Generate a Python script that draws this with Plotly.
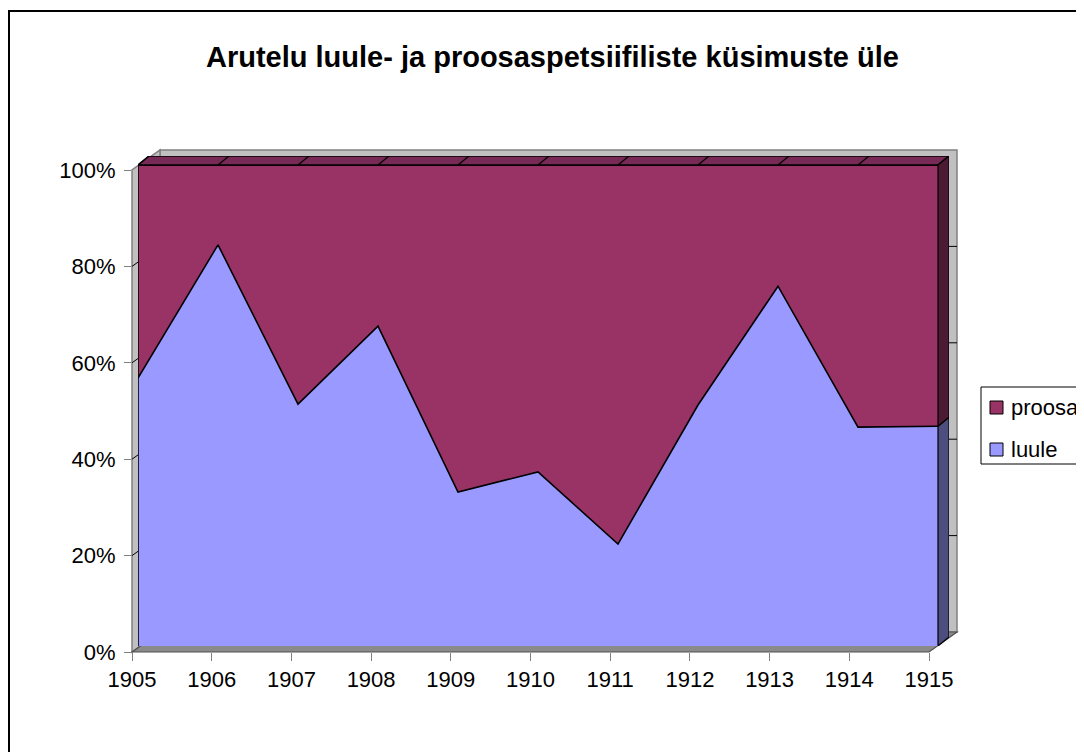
import plotly.graph_objects as go

# ---------------- data ----------------
years = [1905, 1906, 1907, 1908, 1909, 1910, 1911, 1912, 1913, 1914, 1915]
luule = [55.7, 83.4, 50.3, 66.5, 32.0, 36.2, 21.2, 50.1, 74.8, 45.5, 45.7]
proosa = [44.3, 16.6, 49.7, 33.5, 68.0, 63.8, 78.8, 49.9, 25.2, 54.5, 54.3]
ytick_vals = [0, 20, 40, 60, 80, 100]
ytick_text = ["0%", "20%", "40%", "60%", "80%", "100%"]
title_text = "Arutelu luule- ja proosaspetsiifiliste küsimuste üle"
series_names = ["luule", "proosa"]

# ---------------- geometry helpers (window pixels -> paper) ----------------
OFF = 8                      # default page body margin
W, H = 1084 - OFF, 752 - OFF
FONT = "Liberation Sans, Arial, sans-serif"


def px(x):
    return (x - OFF) / W


def py(y):
    return 1 - (y - OFF) / H


C_LUULE = "#9999FF"
C_PROOSA = "#993366"
C_TOP = "#762a55"
C_SIDE_PROOSA = "#4d1a33"
C_SIDE_LUULE = "#4d4d80"
C_WALL = "#c0c0c0"
C_FLOOR = "#8a8a8a"

# series front face in pixels
FX0, FX1 = 138, 938
FY0, FY100 = 646, 165
DEPTH_PX = (11, 9)
DX = DEPTH_PX[0] * (years[-1] - years[0]) / (FX1 - FX0)
DY = DEPTH_PX[1] * 100 / (FY0 - FY100)

fig = go.Figure()

# empty trace so that the labelled (front) axes are drawn
fig.add_trace(go.Scatter(x=[], y=[], xaxis="x", yaxis="y", showlegend=False,
                         hoverinfo="skip"))

# ---------------- series (subplot 2) ----------------
fig.add_trace(go.Scatter(x=years, y=luule, name=series_names[0], stackgroup="one",
                         groupnorm="percent", mode="lines",
                         line=dict(color="black", width=1.6), fillcolor=C_LUULE,
                         xaxis="x2", yaxis="y2", showlegend=False))
fig.add_trace(go.Scatter(x=years, y=proosa, name=series_names[1], stackgroup="one",
                         mode="lines", line=dict(color="black", width=1.6),
                         fillcolor=C_PROOSA, xaxis="x2", yaxis="y2", showlegend=False))

l_last = luule[-1] / (luule[-1] + proosa[-1]) * 100
x_end = years[-1]
x_start = years[0]

# top face
fig.add_trace(go.Scatter(x=[x_start, x_end, x_end + DX, x_start + DX, x_start],
                         y=[100, 100, 100 + DY, 100 + DY, 100], fill="toself",
                         fillcolor=C_TOP, mode="lines",
                         line=dict(color="black", width=1.4),
                         xaxis="x2", yaxis="y2", showlegend=False, hoverinfo="skip"))
# divider lines on top face
dx_list, dy_list = [], []
for yr in years:
    dx_list += [yr, yr + DX, None]
    dy_list += [100, 100 + DY, None]
fig.add_trace(go.Scatter(x=dx_list, y=dy_list, mode="lines",
                         line=dict(color="black", width=1.2),
                         xaxis="x2", yaxis="y2", showlegend=False, hoverinfo="skip"))
# right side faces
fig.add_trace(go.Scatter(x=[x_end, x_end, x_end + DX, x_end + DX, x_end],
                         y=[0, l_last, l_last + DY, DY, 0], fill="toself",
                         fillcolor=C_SIDE_LUULE, mode="lines",
                         line=dict(color="black", width=1.2),
                         xaxis="x2", yaxis="y2", showlegend=False, hoverinfo="skip"))
fig.add_trace(go.Scatter(x=[x_end, x_end, x_end + DX, x_end + DX, x_end],
                         y=[l_last, 100, 100 + DY, l_last + DY, l_last], fill="toself",
                         fillcolor=C_SIDE_PROOSA, mode="lines",
                         line=dict(color="black", width=1.2),
                         xaxis="x2", yaxis="y2", showlegend=False, hoverinfo="skip"))
# front left edge
fig.add_trace(go.Scatter(x=[x_start, x_start], y=[0, 100], mode="lines",
                         line=dict(color="black", width=1.6),
                         xaxis="x2", yaxis="y2", showlegend=False, hoverinfo="skip"))

# ---------------- 3D box (walls / floor) as shapes ----------------
shapes = []


def poly(points, fill, line_color, width=1, layer="below"):
    path = "M " + " L ".join(f"{px(x)},{py(y)}" for x, y in points) + " Z"
    return dict(type="path", path=path, xref="paper", yref="paper",
                fillcolor=fill, line=dict(color=line_color, width=width), layer=layer)


BX0, BX1, BY0, BY100 = 132, 929, 652, 170
BD = (28, 20)
shapes.append(poly([(BX0 + BD[0], BY100 - BD[1]), (BX1 + BD[0], BY100 - BD[1]),
                    (BX1 + BD[0], BY0 - BD[1]), (BX0 + BD[0], BY0 - BD[1])],
                   C_WALL, "#808080", 1.5))
shapes.append(poly([(BX0, BY0), (BX0, BY100), (BX0 + BD[0], BY100 - BD[1]),
                    (BX0 + BD[0], BY0 - BD[1])], C_WALL, "#808080", 1.5))
shapes.append(poly([(BX0, BY0), (BX1, BY0), (BX1 + BD[0], BY0 - BD[1]),
                    (BX0 + BD[0], BY0 - BD[1])], C_FLOOR, "#505050", 1.2))
# gridlines on walls
for v in ytick_vals[1:-1]:
    yb = BY0 - (BY0 - BY100) * v / 100
    shapes.append(dict(type="line", xref="paper", yref="paper",
                       x0=px(BX0), y0=py(yb), x1=px(BX0 + BD[0]), y1=py(yb - BD[1]),
                       line=dict(color="black", width=1), layer="below"))
    shapes.append(dict(type="line", xref="paper", yref="paper",
                       x0=px(BX0 + BD[0]), y0=py(yb - BD[1]), x1=px(BX1 + BD[0]),
                       y1=py(yb - BD[1]),
                       line=dict(color="black", width=1), layer="below"))

# outer chart border
shapes.append(dict(type="rect", xref="paper", yref="paper",
                   x0=px(9), x1=px(1084 + 10), y0=py(752 + 10), y1=py(11),
                   line=dict(color="black", width=2), fillcolor="rgba(0,0,0,0)",
                   layer="above"))

# legend (manual)
shapes.append(dict(type="rect", xref="paper", yref="paper",
                   x0=px(981), x1=px(1084 + 10), y0=py(464), y1=py(387),
                   line=dict(color="black", width=1), fillcolor="white", layer="above"))
shapes.append(dict(type="rect", xref="paper", yref="paper",
                   x0=px(990), x1=px(1003), y0=py(414), y1=py(401),
                   line=dict(color="black", width=1), fillcolor=C_PROOSA, layer="above"))
shapes.append(dict(type="rect", xref="paper", yref="paper",
                   x0=px(990), x1=px(1003), y0=py(456), y1=py(443),
                   line=dict(color="black", width=1), fillcolor=C_LUULE, layer="above"))

annotations = [
    dict(text="<b>" + title_text + "</b>", x=px(552), y=py(57), xref="paper", yref="paper",
         xanchor="center", yanchor="middle", showarrow=False,
         font=dict(family=FONT, size=29, color="black")),
    dict(text=series_names[1], x=px(1009), y=py(407), xref="paper", yref="paper",
         xanchor="left", yanchor="middle", showarrow=False,
         font=dict(family=FONT, size=22, color="black")),
    dict(text=series_names[0], x=px(1009), y=py(449), xref="paper", yref="paper",
         xanchor="left", yanchor="middle", showarrow=False,
         font=dict(family=FONT, size=22, color="black")),
]

fig.update_layout(
    width=W, height=H,
    margin=dict(l=0, r=0, t=0, b=0, pad=0, autoexpand=False),
    paper_bgcolor="white", plot_bgcolor="rgba(0,0,0,0)",
    showlegend=False,
    font=dict(family=FONT, size=22, color="black"),
    xaxis=dict(domain=[px(BX0), px(BX1)], range=[years[0], years[-1]],
               tickvals=years, ticktext=[str(y) for y in years],
               ticks="outside", ticklen=8, tickcolor="#808080", tickwidth=1,
               showgrid=False, zeroline=False, showline=False, automargin=False,
               tickfont=dict(family=FONT, size=22, color="black"),
               anchor="y", fixedrange=True),
    yaxis=dict(domain=[py(BY0), py(BY100)], range=[0, 100],
               tickvals=ytick_vals, ticktext=ytick_text,
               ticks="outside", ticklen=7, tickcolor="#808080", tickwidth=1,
               showgrid=False, zeroline=False, showline=False, automargin=False,
               tickfont=dict(family=FONT, size=22, color="black"),
               ticklabelstandoff=4, anchor="x", fixedrange=True),
    xaxis2=dict(domain=[px(FX0), px(FX1 + DEPTH_PX[0])], range=[years[0], years[-1] + DX],
                visible=False, anchor="y2", fixedrange=True, automargin=False),
    yaxis2=dict(domain=[py(FY0), py(FY100 - DEPTH_PX[1])], range=[0, 100 + DY],
                visible=False, anchor="x2", fixedrange=True, automargin=False),
    shapes=shapes,
    annotations=annotations,
)

fig.write_html("out.html")
